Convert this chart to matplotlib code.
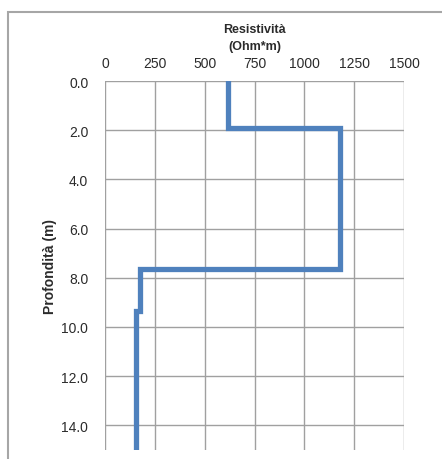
import matplotlib
matplotlib.use("Agg")
import matplotlib.pyplot as plt
from matplotlib.patches import Rectangle

# layer boundaries (depth, m) and resistivity (Ohm*m)
depth_top = [0.0, 1.9, 7.63, 9.35]
depth_bottom = [1.9, 7.63, 9.35, 15.0]
resistivity = [615, 1180, 175, 155]

x_ticks = [0, 250, 500, 750, 1000, 1250, 1500]
y_ticks = [0.0, 2.0, 4.0, 6.0, 8.0, 10.0, 12.0, 14.0]

plt.rcParams['font.family'] = ['Liberation Sans', 'DejaVu Sans']

fig = plt.figure(figsize=(4.42, 4.60), dpi=100)
ax = fig.add_axes([105/442, 1 - 451/460, 299/442, 369/460])

# build step path
xs, ys = [], []
for top, bot, r in zip(depth_top, depth_bottom, resistivity):
    xs += [r, r]
    ys += [top, bot]
ax.plot(xs, ys, color='#4F81BD', lw=3.8, solid_joinstyle='miter', zorder=3)

ax.set_xlim(0, 1500)
ax.set_ylim(15, 0)
ax.xaxis.tick_top()
ax.xaxis.set_label_position('top')
ax.set_xticks(x_ticks)
ax.set_xticklabels([str(v) for v in x_ticks])
ax.set_yticks(y_ticks)
ax.set_yticklabels([f"{v:.1f}" for v in y_ticks])
ax.tick_params(length=0, labelsize=10, colors='#2b2b2b', pad=12)
ax.tick_params(axis='x', pad=8)
ax.grid(True, color='#A0A0A0', lw=1.0)
for s in ax.spines.values():
    s.set_visible(False)

ax.set_xlabel('Resistività\n(Ohm*m)', fontsize=9, fontweight='bold', color='#2b2b2b',
              labelpad=5, linespacing=1.5)
ax.set_ylabel('Profondità (m)', fontsize=10, fontweight='bold', color='#2b2b2b',
              labelpad=3)

# outer chart border
fig.patches.append(Rectangle((8/442, -0.1), 1.2, 1 - 13/460 + 0.1,
                             transform=fig.transFigure, fill=False,
                             edgecolor='#A6A6A6', lw=1.5))

fig.savefig('out.png', dpi=100)
